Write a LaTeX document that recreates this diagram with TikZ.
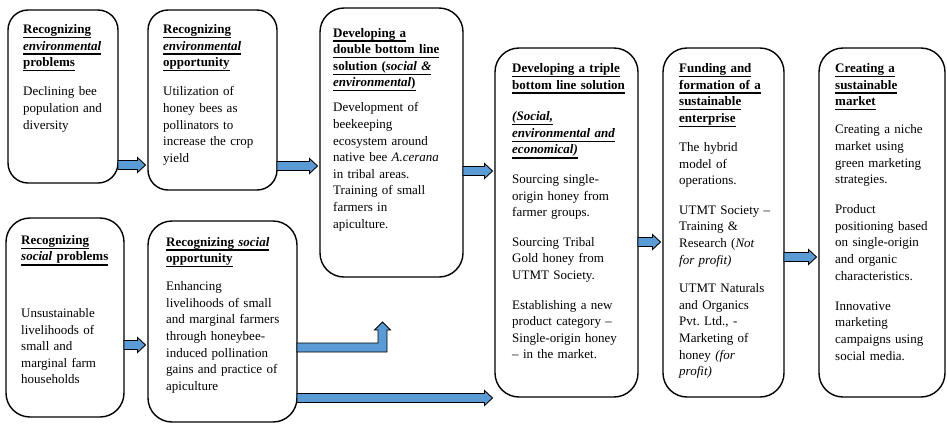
\documentclass[tikz,border=0pt]{standalone}
\usepackage{fontspec}
\setmainfont{Liberation Serif}
\usetikzlibrary{calc}
\definecolor{arrowblue}{HTML}{5B9BD5}
\frenchspacing
\newcommand{\ulin}[1]{\leavevmode\setbox0=\hbox{#1}\rlap{\rule[-4.6pt]{\wd0}{1.3pt}}\box0}
\newcommand{\harrow}[3]{%
  \coordinate (s) at (#1.east |- 0,#3);
  \coordinate (e) at ($(#2.west |- 0,#3)+(-2.5,0)$);
  \filldraw[blockarrow] ($(s)+(0,-4.5)$) -- ($(e)+(-8,-4.5)$) -- ($(e)+(-8,-7.5)$) -- (e)
    -- ($(e)+(-8,7.5)$) -- ($(e)+(-8,4.5)$) -- ($(s)+(0,4.5)$) -- cycle;}
\tikzset{
  boxstyle/.style={draw=black, line width=1.4pt, rounded corners=24pt, inner sep=0pt, outer sep=0pt, anchor=north west},
  txt/.style={anchor=base west, inner sep=0pt, text width=160pt, align=left, font=\fontsize{13}{16.6}\selectfont\frenchspacing},
  blockarrow/.style={fill=arrowblue, draw=black, line width=0.9pt, line join=miter}
}
\begin{document}
\begin{tikzpicture}[x=1pt,y=-1pt]
\useasboundingbox (0,0) rectangle (947,424);
% boxes
\node[boxstyle, rounded corners=20pt, minimum width=110pt, minimum height=173pt] (b1) at (8,10) {};
\node[boxstyle, rounded corners=20pt, minimum width=129pt, minimum height=180pt] (b2) at (148,10) {};
\node[boxstyle, minimum width=143pt, minimum height=269pt] (b3) at (320,8) {};
\node[boxstyle, minimum width=143pt, minimum height=349pt] (b4) at (495,48) {};
\node[boxstyle, minimum width=121pt, minimum height=349pt] (b5) at (663,48) {};
\node[boxstyle, minimum width=126pt, minimum height=349pt] (b6) at (819,48) {};
\node[boxstyle, minimum width=118pt, minimum height=199pt] (b7) at (6,218) {};
\node[boxstyle, minimum width=149pt, minimum height=201pt] (b8) at (148,221) {};
% texts
\node[txt] (t1) at ($(b1.north west)+(15,23.5)$) {{\bfseries\ulin{Recognizing}\\ \ulin{\textit{environmental}}\\ \ulin{problems}}\\[12.5pt]
Declining bee\\ population and\\ diversity};
\node[txt] (t2) at ($(b2.north west)+(15,23.5)$) {{\bfseries\ulin{Recognizing}\\ \ulin{\textit{environmental}}\\ \ulin{opportunity}}\\[12.5pt]
Utilization of\\ honey bees as\\ pollinators to\\ increase the crop\\ yield};
\node[txt] (t3) at ($(b3.north west)+(13,29)$) {{\bfseries\ulin{Developing a}\\ \ulin{double bottom line}\\ \ulin{solution (\textit{social \&}}\\ \ulin{\textit{environmental})}}\\[8.5pt]
Development of\\ beekeeping\\ ecosystem around\\ native bee \textit{A.cerana}\\ in tribal areas.\\ Training of small\\ farmers in\\ apiculture.};
\node[txt] (t4) at ($(b4.north west)+(17,24.5)$) {{\bfseries\ulin{Developing a triple}\\ \ulin{bottom line solution}\\[15pt]
\ulin{\textit{(Social,}}\\ \ulin{\textit{environmental and}}\\ \ulin{\textit{economical)}}}\\[13pt]
Sourcing single-\\ origin honey from\\ farmer groups.\\[13pt]
Sourcing Tribal\\ Gold honey from\\ UTMT Society.\\[13pt]
Establishing a new\\ product category –\\ Single-origin honey\\ – in the market.};
\node[txt] (t5) at ($(b5.north west)+(16,24.5)$) {{\bfseries\ulin{Funding and}\\ \ulin{formation of a}\\ \ulin{sustainable}\\ \ulin{enterprise}}\\[12.5pt]
The hybrid\\ model of\\ operations.\\[13pt]
UTMT Society –\\ Training \&\\ Research (\textit{Not}\\ \textit{for profit)}\\[12pt]
UTMT Naturals\\ and Organics\\ Pvt.\ Ltd., -\\ Marketing of\\ honey \textit{(for}\\ \textit{profit)}};
\node[txt] (t6) at ($(b6.north west)+(16,24.5)$) {{\bfseries\ulin{Creating a}\\ \ulin{sustainable}\\ \ulin{market}}\\[11.5pt]
Creating a niche\\ market using\\ green marketing\\ strategies.\\[13.5pt]
Product\\ positioning based\\ on single-origin\\ and organic\\ characteristics.\\[13.5pt]
Innovative\\ marketing\\ campaigns using\\ social media.};
\node[txt] (t7) at ($(b7.north west)+(15,26.3)$) {{\bfseries\ulin{Recognizing}\\ \ulin{\textit{social} problems}}\\[40pt]
Unsustainable\\ livelihoods of\\ small and\\ marginal farm\\ households};
\node[txt] (t8) at ($(b8.north west)+(18,25)$) {{\bfseries\ulin{Recognizing \textit{social}}\\ \ulin{opportunity}}\\[11.5pt]
Enhancing\\ livelihoods of small\\ and marginal farmers\\ through honeybee-\\ induced pollination\\ gains and practice of\\ apiculture};
% arrows
\harrow{b1}{b2}{165}
\harrow{b2}{b3}{166}
\harrow{b3}{b4}{171}
\harrow{b4}{b5}{242}
\harrow{b5}{b6}{257}
\harrow{b7}{b8}{345}
\harrow{b8}{b4}{398}
% bent arrow from b8 up towards b3
\coordinate (up) at ($(b3.south west)+(62.5,45)$);
\coordinate (s8) at (b8.east |- 0,347.5);
\coordinate (k8) at (up |- s8);
\filldraw[blockarrow] ($(s8)+(0,-4.5)$) -- ($(k8)+(-4.5,-4.5)$) -- ($(up)+(-4.5,8)$) -- ($(up)+(-8,8)$) -- (up)
  -- ($(up)+(8,8)$) -- ($(up)+(4.5,8)$) -- ($(k8)+(4.5,4.5)$) -- ($(s8)+(0,4.5)$) -- cycle;
\end{tikzpicture}
\end{document}
